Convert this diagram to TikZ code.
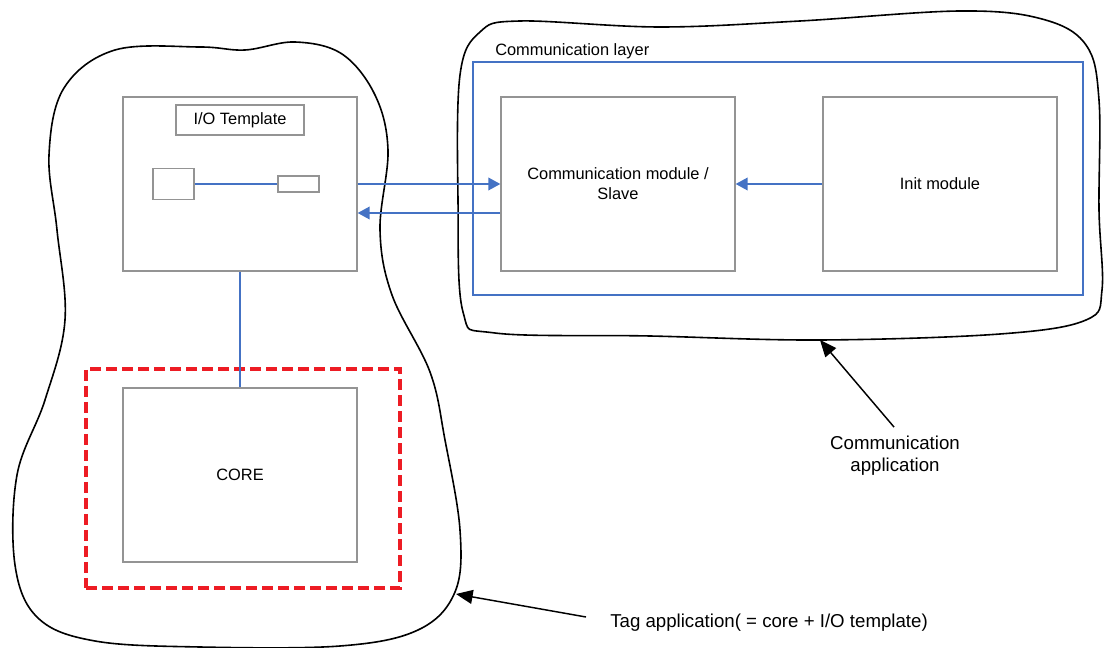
\documentclass[tikz,border=0pt]{standalone}
\usepackage{fontspec}
\setmainfont{Liberation Sans}
\usetikzlibrary{arrows.meta,calc}
\definecolor{lineblue}{RGB}{68,114,196}
\definecolor{dashred}{RGB}{237,28,36}

\begin{document}
\begin{tikzpicture}[x=0.75pt,y=0.75pt,yscale=-1,xscale=1,
        box/.style={draw=black!42,line width=1pt,minimum width=175.5pt,minimum height=130.5pt,inner sep=0.75pt,font=\fontsize{12.3}{15}\selectfont,align=center},
        note/.style={inner sep=0.75pt,font=\fontsize{14}{16.5}\selectfont,align=center},
        flow/.style={draw=lineblue,line width=1.2pt},
        flowarrow/.style={flow,-{Triangle[length=9pt,width=9.5pt]}},
        pointer/.style={draw=black,line width=1.1pt,-{Triangle[length=12.5pt,width=10.5pt]}},
        blob/.style={draw=black,line width=1.2pt,smooth cycle,tension=0.6}]
        \useasboundingbox (0,0) rectangle (1104,648);
        % tag application outline
        \draw [blob] plot coordinates {(115,50) (200,47) (245,50) (295,42) (342,54) (375,95) (388,150) (380,230) (392,295) (430,372) (445,440) (460,530) (455,592) (418,630) (340,646) (200,647) (95,641) (38,618) (15,565) (17,475) (45,400) (65,320) (57,230) (49,155) (64,88)};
        % communication application outline
        \draw [blob] plot coordinates {(520,21) (660,27) (800,21) (960,11) (1042,19) (1086,45) (1099,100) (1099,210) (1102,290) (1086,320) (1000,334) (820,340) (650,336) (495,333) (463,312) (458,200) (460,75) (480,32)};
        \node (iobox) [box] at (240,184) {};
        \node (iolabel) [box,minimum width=96pt,minimum height=22.5pt] at (240,120) {I/O Template};
        \node (port) [box,minimum width=30.75pt,minimum height=23.25pt] at (173.5,184) {};
        \node (pin) [box,minimum width=30.75pt,minimum height=12pt] at (298.5,184) {};
        \node (core) [box] at (240,475) {CORE};
        \node (coreframe) [draw=dashred,line width=2.6pt,dash pattern=on 8pt off 4pt,minimum width=235.5pt,minimum height=164.25pt] at (243,478.5) {};
        \node (layer) [draw=lineblue,line width=1pt,minimum width=457.5pt,minimum height=174.75pt] at (778,178.5) {};
        \node (layerlabel) [anchor=base west,inner sep=0pt,font=\fontsize{12.3}{15}\selectfont] at (495,56) {Communication layer};
        \node (commmod) [box] at (618,184) {Communication module /\\Slave};
        \node (initmod) [box] at (940,184) {Init module};
        \draw [flow] (port) -- (pin);
        \draw [flow] (iobox) -- (core);
        \draw [flowarrow] (iobox.east) -- (commmod.west);
        \draw [flowarrow] ($(commmod.west)+(0,29)$) -- ($(iobox.east)+(0,29)$);
        \draw [flowarrow] (initmod) -- (commmod);
        % labels pointing at the outlines
        \node (commapp) [note] at (895,456) {Communication\\application};
        \node (tagapp) [note,anchor=west] at (609,623) {Tag application( = core + I/O template)};
        \coordinate (commtip) at (820,340);
        \coordinate (tagtip) at (456,594);
        \draw [pointer] ($(commapp.north)+(-1,-8)$) -- (commtip);
        \draw [pointer] ($(tagapp.west)+(-23,-6)$) -- (tagtip);
\end{tikzpicture}
\end{document}
